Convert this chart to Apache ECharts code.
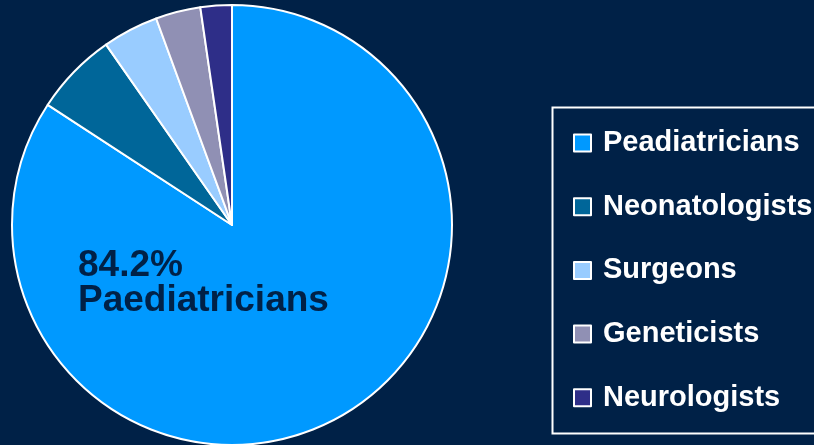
<!DOCTYPE html>
<html>
<head>
<meta charset="utf-8">
<script src="https://cdn.jsdelivr.net/npm/echarts@6/dist/echarts.min.js"></script>
<style>html,body{margin:0;padding:0;background:#002147;}#c{width:814px;height:445px;}</style>
</head>
<body>
<div id="c"></div>
<script>
const categories = ['Peadiatricians', 'Neonatologists', 'Surgeons', 'Geneticists', 'Neurologists'];
const values = [84.2, 6.1, 4.1, 3.3, 2.3];
const colors = ['#0099FF', '#006699', '#99CCFF', '#9090B4', '#2E2E88'];
const labelName = 'Paediatricians';

const chart = echarts.init(document.getElementById('c'), null, {renderer: 'canvas'});
const font = '"Liberation Sans", Arial, sans-serif';
chart.setOption({
  backgroundColor: '#002147',
  animation: false,
  color: colors,
  legend: {
    orient: 'vertical',
    left: 573,
    top: 128,
    padding: 0,
    itemWidth: 17,
    itemHeight: 17,
    itemGap: 33.7,
    icon: 'rect',
    itemStyle: {borderColor: '#FFFFFF', borderWidth: 2},
    textStyle: {color: '#FFFFFF', fontSize: 29, fontWeight: 'bold', fontFamily: font, lineHeight: 30, padding: [0, 0, 0, 7]},
    data: categories
  },
  graphic: [
    {type: 'rect', left: 550, top: 105, shape: {width: 300, height: 326}, style: {fill: 'none', stroke: '#FFFFFF', lineWidth: 2}, z: 0},
    {type: 'text', left: 78, top: 247, z: 10,
     style: {text: values[0] + '%\n' + labelName, fill: '#002147', font: 'bold 37px ' + font, lineHeight: 35}}
  ],
  series: [{
    type: 'pie',
    center: [232, 225],
    radius: 220,
    startAngle: 90,
    clockwise: true,
    label: {show: false},
    labelLine: {show: false},
    itemStyle: {borderColor: '#FFFFFF', borderWidth: 2},
    emphasis: {disabled: true},
    data: categories.map((n, i) => ({name: n, value: values[i]}))
  }]
});
</script>
</body>
</html>
